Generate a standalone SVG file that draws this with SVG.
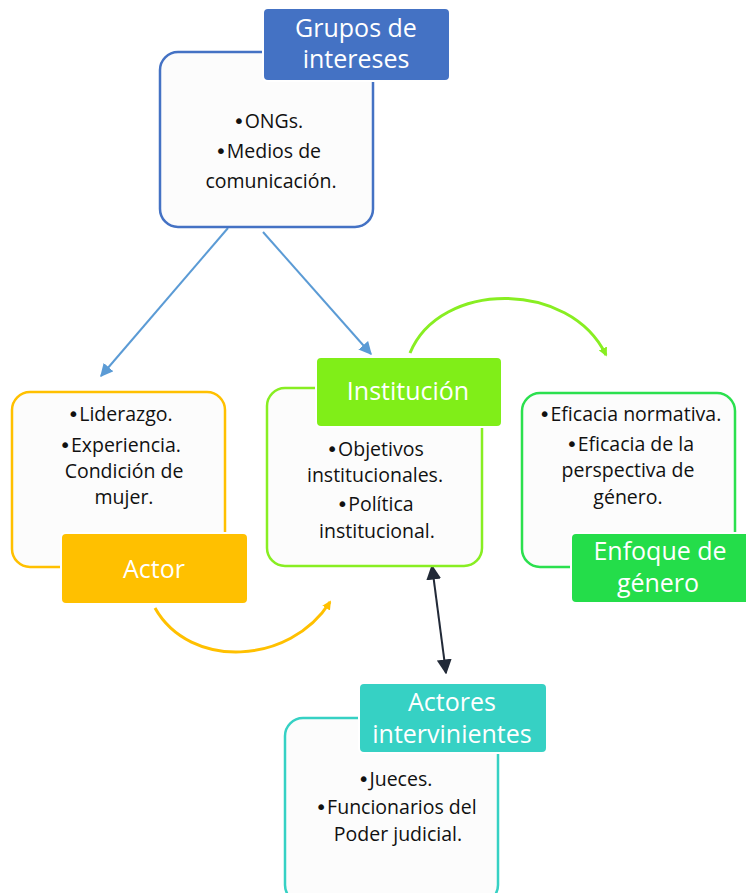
<svg xmlns="http://www.w3.org/2000/svg" width="746" height="893" viewBox="0 0 746 893">
<style>
.body{fill:#FCFCFC;stroke-width:2.5}
.lab{stroke:#FFFFFF;stroke-width:2}
.lt{font-family:"Open Sans","Liberation Sans",sans-serif;font-size:25px;fill:#FFFFFF;text-anchor:middle}
.bt{font-family:"Open Sans","Liberation Sans",sans-serif;font-size:19.5px;fill:#111111;text-anchor:middle}
.bu{font-family:"DejaVu Sans",sans-serif;font-size:20px}
</style>
<defs>
<marker id="mb" viewBox="0 0 10 10" refX="9" refY="5" markerWidth="13" markerHeight="13" markerUnits="userSpaceOnUse" orient="auto"><path d="M0,0 L10,5 L0,10 z" fill="#5B9BD5"/></marker>
<marker id="mg" viewBox="0 0 10 10" refX="8" refY="5" markerWidth="9" markerHeight="9" markerUnits="userSpaceOnUse" orient="auto"><path d="M0,0 L10,5 L0,10 z" fill="#88EE22"/></marker>
<marker id="my" viewBox="0 0 10 10" refX="8" refY="5" markerWidth="9" markerHeight="9" markerUnits="userSpaceOnUse" orient="auto"><path d="M0,0 L10,5 L0,10 z" fill="#FFC000"/></marker>
<marker id="mk" viewBox="0 0 10 10" refX="9" refY="5" markerWidth="15" markerHeight="15" markerUnits="userSpaceOnUse" orient="auto-start-reverse"><path d="M0,0 L10,5 L0,10 z" fill="#222A38"/></marker>
</defs>
<rect width="746" height="893" fill="#FFFFFF"/>
<g id="connectors">
<line x1="228" y1="228" x2="101" y2="376" stroke="#5B9BD5" stroke-width="2" marker-end="url(#mb)"/>
<line x1="263" y1="232" x2="371" y2="354" stroke="#5B9BD5" stroke-width="2" marker-end="url(#mb)"/>
<path d="M410 353 C440 280,570 280,606 355" fill="none" stroke="#88EE22" stroke-width="3" marker-end="url(#mg)"/>
<path d="M155 608 C190 670,290 665,330 602" fill="none" stroke="#FFC000" stroke-width="3" marker-end="url(#my)"/>
<line x1="432" y1="566" x2="446" y2="673" stroke="#222A38" stroke-width="2" marker-start="url(#mk)" marker-end="url(#mk)"/>
</g>
<g id="grupos">
<rect class="body" x="160" y="52" width="213" height="175" rx="18" stroke="#4472C4"/>
<rect class="lab" x="263" y="8" width="187" height="73" rx="5" fill="#4472C4"/>
<text class="lt" x="356" y="37">Grupos de</text>
<text class="lt" x="356" y="68">intereses</text>
<text class="bt" x="268" y="128"><tspan class="bu">•</tspan>ONGs.</text>
<text class="bt" x="268" y="158"><tspan class="bu">•</tspan>Medios de</text>
<text class="bt" x="271" y="188">comunicación.</text>
</g>
<g id="actor">
<rect class="body" x="12" y="392" width="213" height="175" rx="18" stroke="#FFC000"/>
<rect class="lab" x="61" y="533" width="187" height="71" rx="5" fill="#FFC000"/>
<text class="lt" x="154" y="578">Actor</text>
<text class="bt" x="120" y="421"><tspan class="bu">•</tspan>Liderazgo.</text>
<text class="bt" x="120" y="452"><tspan class="bu">•</tspan>Experiencia.</text>
<text class="bt" x="124" y="478">Condición de</text>
<text class="bt" x="124" y="504">mujer.</text>
</g>
<g id="institucion">
<rect class="body" x="267" y="388" width="215" height="178" rx="18" stroke="#88EE22"/>
<rect class="lab" x="316" y="357" width="186" height="70" rx="5" fill="#80EE18"/>
<text class="lt" x="408" y="400">Institución</text>
<text class="bt" x="375" y="456"><tspan class="bu">•</tspan>Objetivos</text>
<text class="bt" x="375" y="482">institucionales.</text>
<text class="bt" x="375" y="511"><tspan class="bu">•</tspan>Política</text>
<text class="bt" x="377" y="538">institucional.</text>
</g>
<g id="enfoque">
<rect class="body" x="522" y="393" width="213" height="174" rx="18" stroke="#2BE04E"/>
<rect class="lab" x="571" y="533" width="180" height="70" rx="5" fill="#24DD4A"/>
<text class="lt" x="660" y="560">Enfoque de</text>
<text class="lt" x="658" y="592">género</text>
<text class="bt" x="630" y="421"><tspan class="bu">•</tspan>Eficacia normativa.</text>
<text class="bt" x="630" y="451"><tspan class="bu">•</tspan>Eficacia de la</text>
<text class="bt" x="628" y="477">perspectiva de</text>
<text class="bt" x="628" y="504">género.</text>
</g>
<g id="actores">
<rect class="body" x="285" y="718" width="213" height="185" rx="18" stroke="#36D1C4"/>
<rect class="lab" x="359" y="683" width="188" height="70" rx="5" fill="#36D1C4"/>
<text class="lt" x="452" y="711">Actores</text>
<text class="lt" x="452" y="743">intervinientes</text>
<text class="bt" x="395" y="786"><tspan class="bu">•</tspan>Jueces.</text>
<text class="bt" x="396" y="814"><tspan class="bu">•</tspan>Funcionarios del</text>
<text class="bt" x="398" y="841">Poder judicial.</text>
</g>
</svg>
